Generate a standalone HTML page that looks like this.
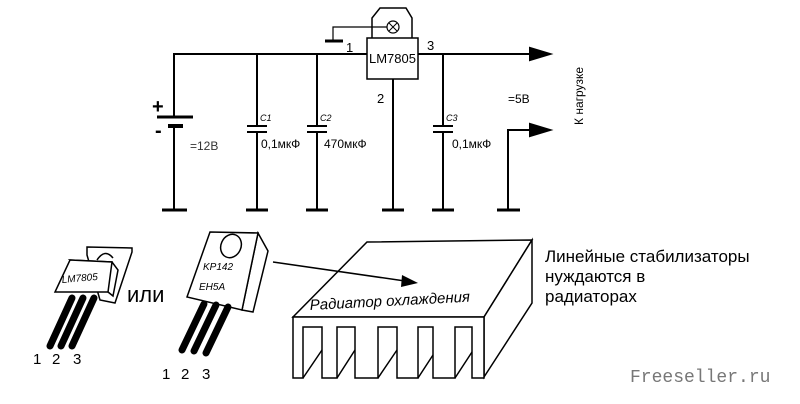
<!DOCTYPE html>
<html><head><meta charset="utf-8"><style>
html,body{margin:0;padding:0;background:#fff;}
svg{display:block;}
text{font-family:"Liberation Sans",sans-serif;}
text.mono{font-family:"Liberation Mono",monospace;}
</style></head><body>
<svg width="800" height="404" viewBox="0 0 800 404" xmlns="http://www.w3.org/2000/svg">
<g stroke="#000" stroke-width="2" fill="none">
<path d="M174 117 V54 H367"/>
<path d="M418 54 H530"/>
<polygon points="530,48 550,54 530,60" fill="#000"/>
<rect x="367" y="38" width="51" height="41" stroke-width="1.5"/>
<path d="M372 38 V18 L380 8 H406 L412 18 V38" stroke-width="1.5"/>
<circle cx="393" cy="27" r="6" stroke-width="1.2"/>
<path d="M389 23 L397 31 M397 23 L389 31" stroke-width="1"/>
<path d="M387 27 H333 V41" stroke-width="1.2"/>
<path d="M325 41 H343" stroke-width="3"/>
<path d="M157 117 H193" stroke-width="3"/>
<path d="M168 126 H183" stroke-width="4"/>
<path d="M174 126 V210"/>
<path d="M257 54 V126 M257 132 V210 M247 126 H267 M247 132 H267"/>
<path d="M317 54 V126 M317 132 V210 M307 126 H327 M307 132 H327"/>
<path d="M443 54 V126 M443 132 V210 M433 126 H453 M433 132 H453"/>
<path d="M393 79 V210"/>
<path d="M508 210 V130 H530"/>
<polygon points="530,124 550,130 530,136" fill="#000"/>
<g stroke-width="3">
<path d="M162 210 H187 M246 210 H268 M306 210 H328 M382 210 H404 M432 210 H454 M497 210 H520"/>
</g>
</g>
<g font-size="13" fill="#000">
<text x="369" y="63" font-size="13">LM7805</text>
<text x="346" y="52">1</text><text x="427" y="50">3</text><text x="377" y="103">2</text>
<text x="152" y="113" font-size="20" font-weight="bold">+</text>
<text x="155" y="137" font-size="20" font-weight="bold">-</text>
<text x="190" y="150" font-size="12" fill="#333">=12В</text>
<text x="260" y="121" font-size="9" font-style="italic">C1</text>
<text x="320" y="121" font-size="9" font-style="italic">C2</text>
<text x="446" y="121" font-size="9" font-style="italic">C3</text>
<text x="261" y="148" font-size="12">0,1мкФ</text>
<text x="324" y="148" font-size="12">470мкФ</text>
<text x="452" y="148" font-size="12">0,1мкФ</text>
<text x="508" y="103" font-size="12">=5В</text>
<text transform="translate(583,125) rotate(-90)" font-size="12">К нагрузке</text>
</g>
<!-- left transistor -->
<g stroke="#000" stroke-width="1.5" fill="#fff">
<polygon points="87,247 132,248 132,252 115,303 100,300 87,255"/>
<path d="M97 260 Q105 248 113 258" fill="none"/>
<polygon points="70,260 112,262 118,270 113,296 108,292"/>
<polygon points="70,260 112,262 108,292 55,292"/>
</g>
<g stroke="#000" stroke-width="7" stroke-linecap="round">
<path d="M72 298 L50 346 M83 298 L61 346 M94 298 L72 346"/>
</g>
<text x="62" y="283" font-size="10" font-style="italic" transform="rotate(-5 62 283)">LM7805</text>
<text x="33" y="364" font-size="15">1</text><text x="52" y="364" font-size="15">2</text><text x="73" y="364" font-size="15">3</text>
<text x="127" y="302" font-size="22">или</text>
<!-- right transistor -->
<g stroke="#000" stroke-width="1.5" fill="#fff">
<polygon points="258,233 268,251 253,312 242,310"/>
<polygon points="210,232 258,233 242,310 187,297"/>
<ellipse cx="231" cy="246" rx="10" ry="12" transform="rotate(25 231 246)"/>
</g>
<g stroke="#000" stroke-width="7" stroke-linecap="round">
<path d="M204 304 L182 350 M216 305 L194 351 M228 307 L206 353"/>
</g>
<text x="203" y="270" font-size="10" font-style="italic">KP142</text>
<text x="199" y="290" font-size="10" font-style="italic">EH5A</text>
<text x="162" y="379" font-size="15">1</text><text x="181" y="379" font-size="15">2</text><text x="202" y="379" font-size="15">3</text>
<!-- heatsink -->
<g stroke="#000" stroke-width="1.5" fill="#fff">
<polygon points="367,242 532,240 484,317 293,317"/>
<polygon points="484,317 532,240 532,303 484,377"/>
<path d="M293 317 V378 H303 V327 H322 V378 H337 V327 H355 V378 H378 V327 H397 V378 H418 V327 H433 V378 H455 V327 H472 V378 H484 V317 Z"/>
<path d="M303 378 L322 350 M337 378 L355 350 M378 378 L397 350 M418 378 L433 355 M455 378 L472 352" fill="none"/>
</g>
<!-- arrow -->
<path d="M273 262 L405 281" stroke="#000" stroke-width="1.5"/>
<polygon points="402,275 418,283 401,287" fill="#000"/>
<text x="310" y="310" font-size="15" font-style="italic" transform="rotate(-3 310 310)">Радиатор охлаждения</text>
<g font-size="17" fill="#000">
<text x="545" y="262">Линейные стабилизаторы</text>
<text x="545" y="282">нуждаются в</text>
<text x="545" y="302">радиаторах</text>
</g>
<text class="mono" x="630" y="382" font-size="18" fill="#777">Freeseller.ru</text>
</svg>
</body></html>
